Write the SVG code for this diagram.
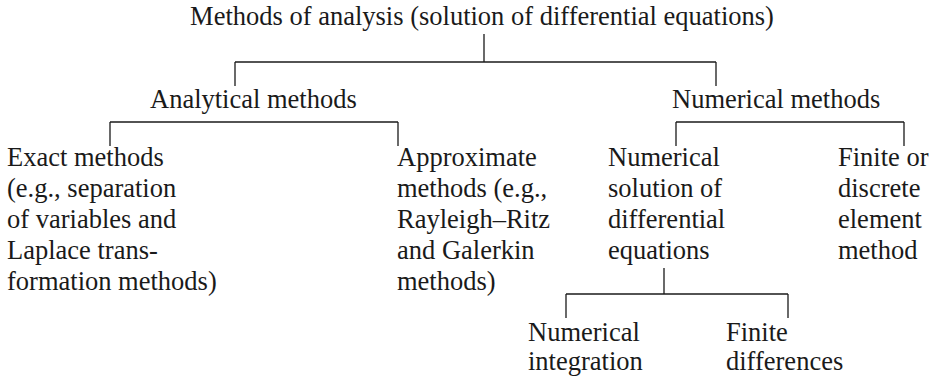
<svg xmlns="http://www.w3.org/2000/svg" width="936" height="377" viewBox="0 0 936 377">
<style>
text{font-family:"Liberation Serif","Times New Roman",serif;font-size:26.5px;fill:#1a1a1a}
.c line{stroke:#1a1a1a;stroke-width:1.3}
</style>
<rect width="936" height="377" fill="#fff"/>
<g class="c" id="connectors">
<line x1="484" y1="34" x2="484" y2="62"/>
<line x1="235" y1="62" x2="716" y2="62"/>
<line x1="235" y1="62" x2="235" y2="86"/>
<line x1="716" y1="62" x2="716" y2="86"/>
<line x1="110" y1="122" x2="398" y2="122"/>
<line x1="110" y1="122" x2="110" y2="146"/>
<line x1="398" y1="122" x2="398" y2="146"/>
<line x1="676" y1="122" x2="904" y2="122"/>
<line x1="676" y1="122" x2="676" y2="146"/>
<line x1="904" y1="122" x2="904" y2="146"/>
<line x1="664" y1="268" x2="664" y2="294"/>
<line x1="566" y1="294" x2="788" y2="294"/>
<line x1="566" y1="294" x2="566" y2="318"/>
<line x1="788" y1="294" x2="788" y2="318"/>
</g>
<g id="root"><text x="482" y="25" text-anchor="middle">Methods of analysis (solution of differential equations)</text></g>
<g id="analytical"><text x="150" y="108">Analytical methods</text></g>
<g id="numerical"><text x="672" y="108">Numerical methods</text></g>
<g id="exact"><text x="7" y="166">Exact methods</text><text x="7" y="197">(e.g., separation</text><text x="7" y="228">of variables and</text><text x="7" y="259">Laplace trans-</text><text x="7" y="290">formation methods)</text></g>
<g id="approximate"><text x="397" y="166">Approximate</text><text x="397" y="197">methods (e.g.,</text><text x="397" y="228">Rayleigh–Ritz</text><text x="397" y="259">and Galerkin</text><text x="397" y="290">methods)</text></g>
<g id="numsolution"><text x="608" y="166">Numerical</text><text x="608" y="197">solution of</text><text x="608" y="228">differential</text><text x="608" y="259">equations</text></g>
<g id="finite-element"><text x="838" y="166">Finite or</text><text x="838" y="197">discrete</text><text x="838" y="228">element</text><text x="838" y="259">method</text></g>
<g id="integration"><text x="528" y="341">Numerical</text><text x="528" y="370">integration</text></g>
<g id="differences"><text x="726" y="341">Finite</text><text x="726" y="370">differences</text></g>
</svg>
